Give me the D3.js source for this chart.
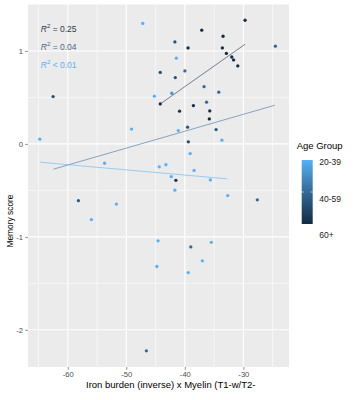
<!DOCTYPE html>
<html>
<head>
<meta charset="utf-8">
<script src="https://cdn.jsdelivr.net/npm/d3@7"></script>
<style>
  html, body { margin: 0; padding: 0; background: #fff; }
  svg { display: block; font-family: "Liberation Sans", Arial, sans-serif; }
</style>
</head>
<body>
<svg id="chart" width="362" height="400"></svg>
<script>
// ---------------- data ----------------
const ironMyelin = [
  -47.19, -29.71, -37.11, -33.47, -41.70, -39.45, -33.59, -32.90, -31.98, -31.67,
  -30.95, -41.45, -44.20, -39.99, -41.63, -45.20, -42.23, -36.71, -34.20, -44.20,
  -40.90, -38.54, -35.74, -35.82, -36.29, -24.53, -62.51, -64.78, -49.10, -41.12,
  -39.53, -34.66, -39.40, -33.67, -39.09, -53.71, -44.37, -43.24, -38.42, -42.32,
  -41.53, -35.64, -41.70, -32.66, -27.61, -58.19, -51.70, -55.97, -44.57, -38.98,
  -35.47, -37.00, -44.78, -39.41, -46.57
];
const memoryScore = [
   1.296,  1.330,  1.223,  1.158,  1.097,  1.032,  1.032,  0.973,  0.935,  0.903,
   0.839,  0.922,  0.769,  0.785,  0.713,  0.513,  0.545,  0.616,  0.556,  0.430,
   0.352,  0.412,  0.355,  0.269,  0.449,  1.051,  0.509,  0.051,  0.159,  0.143,
   0.180,  0.154,  0.022,  0.040, -0.104, -0.208, -0.247, -0.224, -0.285, -0.352,
  -0.392, -0.387, -0.498, -0.556, -0.602, -0.611, -0.647, -0.814, -1.043, -1.108,
  -1.059, -1.258, -1.319, -1.384, -2.226
];
// colour value per point: 1 = 20-39 (light) ... 3 = 60+ (dark)
const ageShade = [
  1, 3, 3, 3, 2.4, 3, 3, 3, 3, 3,
  3, 1, 2.4, 2, 2.4, 1, 1.4, 2, 2, 3,
  2.8, 3, 3, 3, 2, 2, 2.4, 1, 1, 1,
  2.3, 2.3, 2.5, 1, 1, 1, 1, 1, 1, 1,
  2.8, 1, 1, 1, 2, 2.2, 1, 1, 1, 2,
  1, 1, 1, 1, 2
];
// fitted lines per age group
const fitGroups = ["60+", "40-59", "20-39"];
const fitShade  = [3, 2, 1];
const fitX0 = [-44.19, -62.46, -64.73];
const fitY0 = [ 0.430, -0.272, -0.197];
const fitX1 = [-29.71, -24.63, -32.73];
const fitY1 = [ 1.072,  0.416, -0.376];
const r2Labels = ["= 0.25", "= 0.04", "< 0.01"];
const r2LabelX = [-64.61, -64.61, -64.61];
const r2LabelY = [1.240, 1.046, 0.853];

const xTicks = [-60, -50, -40, -30];
const xMinor = [-65, -55, -45, -35, -25];
const yTicks = [-2, -1, 0, 1];
const yMinor = [-1.5, -0.5, 0.5, 1.5];
const legendLabels = ["20-39", "40-59", "60+"];

// ---------------- layout ----------------
const svg = d3.select("#chart");
const P = { left: 28, right: 289, top: 4, bottom: 367 };

const x = d3.scaleLinear().domain([-66.8, -22.2]).range([P.left, P.right]);
const y = d3.scaleLinear().domain([-2.4, 1.505]).range([P.bottom, P.top]);
const color = d3.scaleLinear().domain([1, 3]).range(["#56B1F7", "#132B43"])
  .interpolate(d3.interpolateLab);

// panel background
svg.append("rect")
  .attr("x", P.left).attr("y", P.top)
  .attr("width", P.right - P.left).attr("height", P.bottom - P.top)
  .attr("fill", "#EBEBEB");

const defs = svg.append("defs");
defs.append("clipPath").attr("id", "panelClip").append("rect")
  .attr("x", P.left).attr("y", P.top)
  .attr("width", P.right - P.left).attr("height", P.bottom - P.top);

const grid = svg.append("g").attr("clip-path", "url(#panelClip)");
// minor grid
grid.selectAll(".vminor").data(xMinor).join("line")
  .attr("x1", d => x(d)).attr("x2", d => x(d))
  .attr("y1", P.top).attr("y2", P.bottom)
  .attr("stroke", "#fff").attr("stroke-width", 0.55);
grid.selectAll(".hminor").data(yMinor).join("line")
  .attr("y1", d => y(d)).attr("y2", d => y(d))
  .attr("x1", P.left).attr("x2", P.right)
  .attr("stroke", "#fff").attr("stroke-width", 0.55);
// major grid
grid.selectAll(".vmajor").data(xTicks).join("line")
  .attr("x1", d => x(d)).attr("x2", d => x(d))
  .attr("y1", P.top).attr("y2", P.bottom)
  .attr("stroke", "#fff").attr("stroke-width", 1.1);
grid.selectAll(".hmajor").data(yTicks).join("line")
  .attr("y1", d => y(d)).attr("y2", d => y(d))
  .attr("x1", P.left).attr("x2", P.right)
  .attr("stroke", "#fff").attr("stroke-width", 1.1);

// points
const pts = d3.range(ironMyelin.length).map(i => ({
  x: ironMyelin[i], y: memoryScore[i], s: ageShade[i]
}));
svg.append("g").selectAll("circle").data(pts).join("circle")
  .attr("cx", d => x(d.x)).attr("cy", d => y(d.y))
  .attr("r", 1.65)
  .attr("fill", d => color(d.s));

// fitted lines
const fits = fitGroups.map((g, i) => ({
  g, s: fitShade[i], x0: fitX0[i], y0: fitY0[i], x1: fitX1[i], y1: fitY1[i]
}));
svg.append("g").selectAll("line").data(fits).join("line")
  .attr("x1", d => x(d.x0)).attr("y1", d => y(d.y0))
  .attr("x2", d => x(d.x1)).attr("y2", d => y(d.y1))
  .attr("stroke", d => color(d.s))
  .attr("stroke-opacity", 0.7)
  .attr("stroke-width", 0.8);

// R^2 annotations
const r2Fill = ["#2f3a46", "#4d6a87", "#56B1F7"];
const ann = svg.append("g").attr("font-size", 8.5);
r2Labels.forEach((lab, i) => {
  const t = ann.append("text")
    .attr("x", x(r2LabelX[i])).attr("y", y(r2LabelY[i]))
    .attr("dy", "0.36em")
    .attr("fill", r2Fill[i]);
  t.append("tspan").attr("font-style", "italic").text("R");
  t.append("tspan").attr("font-size", 6).attr("dy", "-0.55em").text("2");
  t.append("tspan").attr("dy", "0.38em").text(" " + lab);
});

// axes
const xAxis = svg.append("g")
  .attr("transform", `translate(0,${P.bottom})`)
  .call(d3.axisBottom(x).tickValues(xTicks).tickFormat(d => String(d))
        .tickSize(2.75).tickPadding(2.2));
const yAxis = svg.append("g")
  .attr("transform", `translate(${P.left},0)`)
  .call(d3.axisLeft(y).tickValues(yTicks).tickFormat(d => String(d))
        .tickSize(2.75).tickPadding(2.2));
[xAxis, yAxis].forEach(a => {
  a.select(".domain").remove();
  a.selectAll(".tick line").attr("stroke", "#333333").attr("stroke-width", 0.55);
  a.selectAll(".tick text").attr("fill", "#4D4D4D")
    .attr("font-size", 7.6).attr("font-family", "Liberation Sans, Arial, sans-serif");
});

// axis titles
svg.append("text")
  .attr("x", 86).attr("y", 387.6)
  .attr("font-size", 9.5).attr("fill", "#000")
  .text("Iron burden (inverse) x Myelin (T1-w/T2-");
svg.append("text")
  .attr("transform", "translate(12.6,221) rotate(-90)")
  .attr("text-anchor", "middle")
  .attr("font-size", 8.4).attr("fill", "#000")
  .text("Memory score");

// legend
const L = svg.append("g");
L.append("text").attr("x", 296.7).attr("y", 148.5)
  .attr("font-size", 9.5).attr("fill", "#000").text("Age Group");

const grad = defs.append("linearGradient").attr("id", "ageGrad")
  .attr("x1", 0).attr("y1", 0).attr("x2", 0).attr("y2", 1);
d3.range(0, 1.0001, 0.1).forEach(t => {
  grad.append("stop").attr("offset", t).attr("stop-color", color(1 + 2 * t));
});
const barX = 301.7, barY = 160, barW = 11, barH = 64;
L.append("rect").attr("x", barX).attr("y", barY)
  .attr("width", barW).attr("height", barH).attr("fill", "url(#ageGrad)");
const tickY = barY + barH / 2;
L.append("line").attr("x1", barX).attr("x2", barX + 2.2)
  .attr("y1", tickY).attr("y2", tickY).attr("stroke", "#fff").attr("stroke-width", 0.6);
L.append("line").attr("x1", barX + barW - 2.2).attr("x2", barX + barW)
  .attr("y1", tickY).attr("y2", tickY).attr("stroke", "#fff").attr("stroke-width", 0.6);
const legY = [162.3, 199, 235.3];
L.selectAll(".lab").data(legendLabels).join("text")
  .attr("x", 319.3).attr("y", (d, i) => legY[i]).attr("dy", "0.35em")
  .attr("font-size", 8.5).attr("fill", "#1a1a1a").text(d => d);
</script>
</body>
</html>
